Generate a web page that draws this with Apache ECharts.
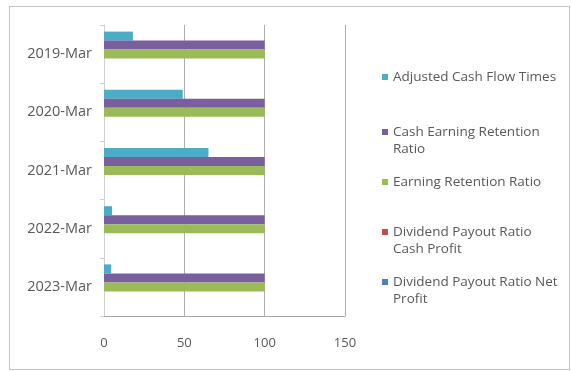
<!DOCTYPE html>
<html>
<head>
<meta charset="utf-8">
<script src="https://cdn.jsdelivr.net/npm/echarts@6/dist/echarts.min.js"></script>
<style>
  html, body { margin: 0; padding: 0; background: #fff; }
  #frame { position: absolute; left: 9px; top: 6px; width: 561px; height: 364px; border: 1px solid #c4c4c4; box-sizing: border-box; }
  #chart { position: absolute; left: 0; top: 0; width: 571px; height: 371px; }
</style>
</head>
<body>
<div id="frame"></div>
<div id="chart"></div>
<script>
// Fiscal years (top to bottom)
const years = ['2019-Mar', '2020-Mar', '2021-Mar', '2022-Mar', '2023-Mar'];

// Series values per year
const adjustedCashFlowTimes = [18, 49, 65, 5, 4.5];
const cashEarningRetention = [100, 100, 100, 100, 100];
const earningRetention = [100, 100, 100, 100, 100];
const dividendPayoutCash = [0, 0, 0, 0, 0];
const dividendPayoutNet = [0, 0, 0, 0, 0];

// Value axis ticks
const xTicks = [0, 50, 100, 150];

// Legend entries: first line goes in the legend, a wrapped second line is drawn beneath it
const seriesDefs = [
  { name: 'Adjusted Cash Flow Times', line1: 'Adjusted Cash Flow Times', line2: '', data: adjustedCashFlowTimes, color: '#4bacc6', y: 77 },
  { name: 'Cash Earning Retention Ratio', line1: 'Cash Earning Retention', line2: 'Ratio', data: cashEarningRetention, color: '#7a5f9e', y: 132 },
  { name: 'Earning Retention Ratio', line1: 'Earning Retention Ratio', line2: '', data: earningRetention, color: '#9bbb59', y: 182 },
  { name: 'Dividend Payout Ratio Cash Profit', line1: 'Dividend Payout Ratio', line2: 'Cash Profit', data: dividendPayoutCash, color: '#c0504d', y: 232 },
  { name: 'Dividend Payout Ratio Net Profit', line1: 'Dividend Payout Ratio Net', line2: 'Profit', data: dividendPayoutNet, color: '#4f81bd', y: 282 }
];

const legendLeft = 382;
const legendTextX = 393;
const legendFont = '13.5px "Open Sans", "Liberation Sans", sans-serif';
const textColor = '#595959';

const chart = echarts.init(document.getElementById('chart'), null, { renderer: 'canvas' });

chart.setOption({
  animation: false,
  backgroundColor: 'transparent',
  textStyle: { fontFamily: '"Open Sans", "Liberation Sans", sans-serif' },
  grid: { left: 104, right: 226, top: 25, bottom: 55 },
  xAxis: {
    type: 'value',
    min: xTicks[0],
    max: xTicks[xTicks.length - 1],
    interval: 50,
    axisLine: { show: true, lineStyle: { color: '#a6a6a6' } },
    axisTick: { show: false },
    axisLabel: { color: textColor, fontSize: 13, margin: 21 },
    splitLine: { show: true, lineStyle: { color: '#b0b0b0' } }
  },
  yAxis: {
    type: 'category',
    data: years,
    inverse: true,
    axisLine: { show: true, lineStyle: { color: '#d0d0d0' } },
    axisTick: { show: true, length: 4, lineStyle: { color: '#d0d0d0' } },
    axisLabel: { color: textColor, fontSize: 14.5, margin: 12 }
  },
  legend: seriesDefs.map(s => ({
    data: [s.name],
    left: legendLeft,
    top: s.y - 9,
    padding: 0,
    orient: 'vertical',
    itemWidth: 6,
    itemHeight: 6,
    itemGap: 0,
    icon: 'rect',
    formatter: () => s.line1,
    textStyle: { color: textColor, fontSize: 13.5, lineHeight: 18 },
    selectedMode: false
  })),
  graphic: seriesDefs.filter(s => s.line2).map(s => ({
    type: 'text',
    x: legendTextX,
    y: s.y + 17,
    silent: true,
    style: {
      text: s.line2,
      font: legendFont,
      fill: textColor,
      verticalAlign: 'middle',
      align: 'left'
    }
  })),
  series: seriesDefs.map(s => ({
    name: s.name,
    type: 'bar',
    data: s.data,
    barWidth: 9,
    barGap: '0%',
    itemStyle: { color: s.color }
  }))
});
</script>
</body>
</html>
